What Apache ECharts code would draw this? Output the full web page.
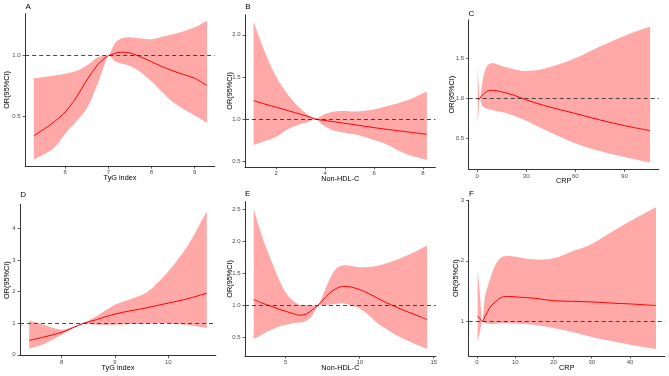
<!DOCTYPE html>
<html>
<head>
<meta charset="utf-8">
<script src="https://cdn.jsdelivr.net/npm/echarts@6/dist/echarts.min.js"></script>
<style>
html,body{margin:0;padding:0;background:#fff;}
#main{width:669px;height:376px;}
</style>
</head>
<body>
<div id="main"></div>
<script>
// A: TyG index (top)
var xA   = [5.27, 5.5, 5.75, 6.0, 6.25, 6.5, 6.75, 6.9, 7.0, 7.15, 7.3, 7.5, 7.75, 8.0, 8.25, 8.5, 8.75, 9.0, 9.29];
var fitA = [0.344, 0.396, 0.46, 0.54, 0.655, 0.80, 0.925, 0.975, 1.0, 1.018, 1.028, 1.022, 0.99, 0.95, 0.91, 0.875, 0.845, 0.815, 0.755];
var lowA = [0.15, 0.19, 0.25, 0.36, 0.46, 0.57, 0.77, 0.915, 1.0, 0.955, 0.935, 0.915, 0.865, 0.79, 0.70, 0.62, 0.56, 0.51, 0.45];
var upA  = [0.814, 0.826, 0.838, 0.852, 0.874, 0.92, 0.985, 1.0, 1.0, 1.10, 1.14, 1.15, 1.14, 1.135, 1.155, 1.175, 1.20, 1.232, 1.287];

// B: Non-HDL-C (top)
var xB   = [1.07, 1.5, 2.0, 2.5, 3.0, 3.3, 3.6, 3.9, 4.3, 4.75, 5.25, 6.0, 6.5, 7.0, 7.5, 8.16];
var fitB = [1.218, 1.18, 1.139, 1.098, 1.055, 1.03, 1.0, 0.985, 0.97, 0.95, 0.93, 0.897, 0.878, 0.86, 0.842, 0.818];
var lowB = [0.69, 0.735, 0.79, 0.88, 0.94, 0.96, 1.0, 0.93, 0.865, 0.84, 0.815, 0.75, 0.70, 0.625, 0.565, 0.513];
var upB  = [2.155, 1.82, 1.50, 1.28, 1.12, 1.05, 1.0, 1.045, 1.085, 1.095, 1.088, 1.113, 1.15, 1.19, 1.237, 1.325];

// C: CRP (top)
var xC   = [0.4, 1.0, 1.8, 2.9, 3.9, 5.9, 9, 13, 17, 23, 30, 42, 60, 75, 90, 105.7];
var fitC = [0.99, 0.99, 1.0, 1.035, 1.05, 1.085, 1.1, 1.09, 1.07, 1.035, 0.98, 0.904, 0.81, 0.73, 0.658, 0.596];
var lowC = [0.687, 0.85, 1.0, 0.916, 0.89, 0.87, 0.854, 0.835, 0.82, 0.78, 0.72, 0.60, 0.4375, 0.34, 0.265, 0.196];
var upC  = [1.416, 1.15, 1.0, 1.15, 1.27, 1.395, 1.44, 1.42, 1.39, 1.36, 1.34, 1.375, 1.5, 1.646, 1.78, 1.896];

// D: TyG index (bottom)
var xD   = [7.39, 7.66, 8.0, 8.2, 8.4, 8.65, 9.0, 9.35, 9.6, 9.9, 10.15, 10.4, 10.72];
var fitD = [0.454, 0.56, 0.71, 0.85, 0.99, 1.11, 1.29, 1.41, 1.49, 1.60, 1.69, 1.79, 1.95];
var lowD = [0.19, 0.33, 0.633, 0.82, 0.99, 0.95, 0.95, 0.97, 0.985, 1.0, 0.97, 0.935, 0.844];
var upD  = [1.076, 0.95, 0.79, 0.88, 0.99, 1.22, 1.58, 1.80, 1.98, 2.45, 2.95, 3.55, 4.54];

// E: Non-HDL-C (bottom)
var xE   = [2.84, 3.3, 3.69, 4.2, 4.6, 5.0, 5.5, 5.95, 6.4, 6.8, 7.18, 7.5, 7.9, 8.4, 8.9, 9.4, 10.0, 10.6, 11.2, 11.8, 12.5, 13.1, 13.6, 14.1, 14.55];
var fitE = [1.089, 1.045, 1.01, 0.97, 0.935, 0.906, 0.87, 0.844, 0.865, 0.93, 1.0, 1.08, 1.175, 1.26, 1.297, 1.285, 1.245, 1.185, 1.11, 1.04, 0.97, 0.91, 0.865, 0.82, 0.776];
var lowE = [0.479, 0.53, 0.583, 0.635, 0.672, 0.695, 0.72, 0.73, 0.76, 0.84, 1.0, 1.005, 1.01, 1.02, 1.03, 1.0, 0.95, 0.85, 0.72, 0.63, 0.53, 0.46, 0.411, 0.36, 0.318];
var upE  = [2.51, 2.15, 1.896, 1.6, 1.375, 1.2, 1.07, 1.01, 1.0, 1.0, 1.0, 1.15, 1.37, 1.57, 1.625, 1.615, 1.594, 1.60, 1.615, 1.655, 1.71, 1.77, 1.82, 1.88, 1.94];

// F: CRP (bottom)
var xF   = [0.18, 0.8, 1.4, 2.1, 2.8, 3.5, 4.8, 6.5, 8.2, 10.8, 15.2, 20, 25, 30, 35.5, 40, 46.8];
var fitF = [1.088, 1.04, 1.0, 1.077, 1.16, 1.24, 1.32, 1.397, 1.41, 1.40, 1.38, 1.34, 1.33, 1.32, 1.30, 1.287, 1.26];
var lowF = [0.663, 0.83, 1.0, 0.967, 0.96, 0.956, 0.96, 0.967, 0.967, 0.96, 0.94, 0.89, 0.824, 0.741, 0.669, 0.614, 0.543];
var upF  = [1.848, 1.42, 1.0, 1.41, 1.57, 1.71, 1.93, 2.06, 2.08, 2.06, 2.02, 2.04, 2.157, 2.278, 2.488, 2.653, 2.884];

// tick labels
var xTicksA = [6, 7, 8, 9],        yTicksA = [0.5, 1.0];
var xTicksB = [2, 4, 6, 8],        yTicksB = [0.5, 1.0, 1.5, 2.0];
var xTicksC = [0, 30, 60, 90],     yTicksC = [0.5, 1.0, 1.5];
var xTicksD = [8, 9, 10],          yTicksD = [0, 1, 2, 3, 4];
var xTicksE = [5, 10, 15],         yTicksE = [0.5, 1.0, 1.5, 2.0, 2.5];
var xTicksF = [0, 10, 20, 30, 40], yTicksF = [1, 2, 3];

var panels = [
  {tag:'A', x:xA, fit:fitA, low:lowA, up:upA, xt:xTicksA, yt:yTicksA, dec:1, xName:'TyG index', yGap:15,
   xr:[5.07, 9.47], yr:[0.094, 1.344], box:[25.2, 13.7, 189.6, 152.5], lab:[25.5, 2.5]},
  {tag:'B', x:xB, fit:fitB, low:lowB, up:upB, xt:xTicksB, yt:yTicksB, dec:1, xName:'Non-HDL-C', yGap:12,
   xr:[0.72, 8.51], yr:[0.431, 2.237], box:[245.0, 14.8, 190.4, 152.1], lab:[245.2, 2.5]},
  {tag:'C', x:xC, fit:fitC, low:lowC, up:upC, xt:xTicksC, yt:yTicksC, dec:1, xName:'CRP', yGap:13.4,
   xr:[-5.1, 111], yr:[0.111, 1.981], box:[468.7, 19.8, 190.1, 149.6], lab:[468.5, 9.5]},
  {tag:'D', x:xD, fit:fitD, low:lowD, up:upD, xt:xTicksD, yt:yTicksD, dec:0, xName:'TyG index', yGap:10,
   xr:[7.22, 10.89], yr:[-0.03, 4.76], box:[20.1, 204.4, 195.7, 151.3], lab:[20.3, 191]},
  {tag:'E', x:xE, fit:fitE, low:lowE, up:upE, xt:xTicksE, yt:yTicksE, dec:1, xName:'Non-HDL-C', yGap:12,
   xr:[2.25, 15.14], yr:[0.208, 2.62], box:[245.0, 201.6, 190.8, 154.4], lab:[245.0, 190]},
  {tag:'F', x:xF, fit:fitF, low:lowF, up:upF, xt:xTicksF, yt:yTicksF, dec:0, xName:'CRP', yGap:9.4,
   xr:[-2.16, 49.13], yr:[0.426, 3.0], box:[468.7, 200.3, 196.2, 155.7], lab:[469.0, 189.5]}
];

var bandColor = '#FFA8A8';
var axisColor = '#333333';
var fontFam = '"Liberation Sans", Arial, sans-serif';

function zip(xs, ys) {
  return xs.map(function (v, i) { return [v, ys[i]]; });
}

// confidence band: one polygon, upper edge left->right then lower edge right->left.
// end points are doubled so the smoothing keeps the vertical ends straight
function bandSeries(p, i) {
  return {
    type: 'custom', xAxisIndex: i, yAxisIndex: i, silent: true,
    data: p.x.map(function (v, k) { return [v, p.low[k], p.up[k]]; }),
    encode: {x: 0, y: [1, 2]},
    renderItem: function (params, api) {
      if (params.dataIndex !== 0) return;
      var n = p.x.length, top = [], bot = [], k;
      for (k = 0; k < n; k++) top.push(api.coord([p.x[k], p.up[k]]));
      for (k = n - 1; k >= 0; k--) bot.push(api.coord([p.x[k], p.low[k]]));
      top.unshift(top[0].slice()); top.push(top[top.length - 1].slice());
      bot.unshift(bot[0].slice()); bot.push(bot[bot.length - 1].slice());
      return {type: 'polygon', shape: {points: top.concat(bot), smooth: 0.35}, style: {fill: bandColor}};
    }
  };
}

var grids = [], xAxes = [], yAxes = [], titles = [], series = [];
panels.forEach(function (p, i) {
  grids.push({left: p.box[0], top: p.box[1], width: p.box[2], height: p.box[3], outerBoundsMode: 'none'});
  titles.push({text: p.tag, left: p.lab[0], top: p.lab[1], padding: 0,
    textStyle: {fontSize: 8, fontWeight: 'normal', color: '#000', fontFamily: fontFam}});
  xAxes.push({
    type: 'value', gridIndex: i, min: p.xr[0], max: p.xr[1], z: 10,
    name: p.xName, nameLocation: 'middle', nameGap: 8.5, nameMoveOverlap: false,
    nameTextStyle: {fontSize: 7.3, color: '#000', fontFamily: fontFam},
    axisLine: {show: true, onZero: false, lineStyle: {color: axisColor, width: 1}},
    axisTick: {show: true, length: 2.5, customValues: p.xt, lineStyle: {color: axisColor, width: 0.8}},
    axisLabel: {customValues: p.xt, margin: 3.5, fontSize: 6, color: '#4D4D4D', fontFamily: fontFam},
    splitLine: {show: false}
  });
  yAxes.push({
    type: 'value', gridIndex: i, min: p.yr[0], max: p.yr[1], z: 10,
    name: 'OR(95%CI)', nameLocation: 'middle', nameGap: p.yGap, nameMoveOverlap: false,
    nameTextStyle: {fontSize: 7.3, color: '#000', fontFamily: fontFam},
    axisLine: {show: true, onZero: false, lineStyle: {color: axisColor, width: 1}},
    axisTick: {show: true, length: 2.5, customValues: p.yt, lineStyle: {color: axisColor, width: 0.8}},
    axisLabel: {customValues: p.yt, margin: 4.5, fontSize: 6, color: '#4D4D4D', fontFamily: fontFam,
      formatter: function (v) { return v.toFixed(p.dec); }},
    splitLine: {show: false}
  });
  series.push(bandSeries(p, i));
  series.push({
    type: 'line', xAxisIndex: i, yAxisIndex: i, data: zip(p.x, p.fit), smooth: 0.35,
    showSymbol: false, silent: true, lineStyle: {color: '#FF0000', width: 1},
    markLine: {
      silent: true, symbol: 'none', label: {show: false},
      lineStyle: {color: '#333333', width: 0.9, type: [4, 3]},
      data: [{yAxis: 1}]
    }
  });
});

var myChart = echarts.init(document.getElementById('main'));
var option = {
  animation: false,
  backgroundColor: '#ffffff',
  title: titles,
  grid: grids,
  xAxis: xAxes,
  yAxis: yAxes,
  series: series
};
myChart.setOption(option);
</script>
</body>
</html>
